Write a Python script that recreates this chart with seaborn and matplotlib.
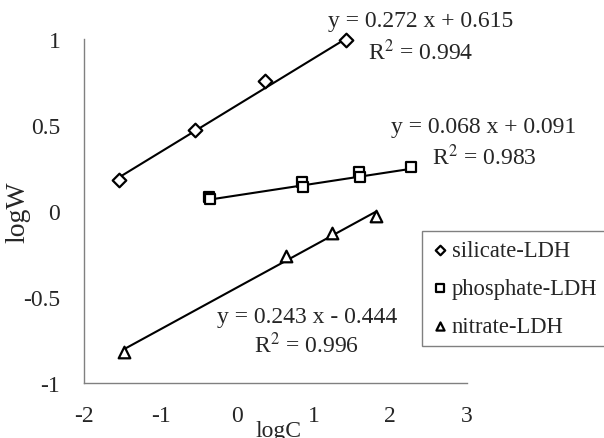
import numpy as np
import pandas as pd
import matplotlib
matplotlib.use("Agg")
import matplotlib.pyplot as plt
import seaborn as sns

# --- data ---
sil_x = [-1.54, -0.55, 0.36, 1.42]
sil_y = [0.18, 0.47, 0.755, 0.994]
pho_x = [-0.37, -0.35, 0.85, 0.86, 1.59, 1.60, 2.27]
pho_y = [0.082, 0.068, 0.168, 0.140, 0.225, 0.198, 0.255]
nit_x = [-1.48, 0.64, 1.24, 1.81]
nit_y = [-0.82, -0.26, -0.13, -0.03]
series = ["silicate-LDH", "phosphate-LDH", "nitrate-LDH"]
slopes = [0.272, 0.068, 0.243]
intercepts = [0.615, 0.091, -0.444]
eq_texts = ["y = 0.272 x + 0.615", "y = 0.068 x + 0.091", "y = 0.243 x - 0.444"]
r2_texts = ["R$^2$ = 0.994", "R$^2$ = 0.983", "R$^2$ = 0.996"]
x_ticks = [-2, -1, 0, 1, 2, 3]
y_ticks = [-1, -0.5, 0, 0.5, 1]

sns.set_style("white")
plt.rcParams["font.family"] = ["Liberation Serif", "DejaVu Serif"]
plt.rcParams["mathtext.fontset"] = "stix"

fig = plt.figure(figsize=(6.04, 4.39), dpi=100)
ax = fig.add_axes([0.139, 0.125, 0.634, 0.784])

xs = [sil_x, pho_x, nit_x]
ys = [sil_y, pho_y, nit_y]
markers = ["D", "s", "^"]
sizes = [48, 55, 70]

for name, x, y, m, s, a, b in zip(series, xs, ys, markers, sizes, slopes, intercepts):
    df = pd.DataFrame({"x": x, "y": y})
    xr = np.array([min(x), max(x)])
    fit = pd.DataFrame({"x": xr, "y": a * xr + b})
    sns.lineplot(data=fit, x="x", y="y", ax=ax, color="black", lw=1.5, legend=False)
    sns.scatterplot(data=df, x="x", y="y", ax=ax, marker=m, s=s,
                    facecolor="white", edgecolor="black", linewidth=1.6,
                    label=name, zorder=3, clip_on=False)

fs = 17
kw = dict(ha="center", va="center", fontsize=fs, clip_on=False)
ax.text(2.39, 1.105, eq_texts[0], **kw)
ax.text(2.40, 0.93, r2_texts[0], **kw)
ax.text(3.22, 0.494, eq_texts[1], **kw)
ax.text(3.23, 0.32, r2_texts[1], **kw)
ax.text(0.91, -0.61, eq_texts[2], **kw)
ax.text(0.91, -0.775, r2_texts[2], **kw)

ax.set_xlim(-2, 3)
ax.set_ylim(-1, 1)
ax.set_xticks(x_ticks)
ax.set_xticklabels([str(t) for t in x_ticks])
ax.set_yticks(y_ticks)
ax.set_yticklabels(["-1", "-0.5", "0", "0.5", "1"])
ax.tick_params(axis="both", labelsize=fs, length=6, width=0.8, color="#808080",
               direction="in")
ax.tick_params(axis="y", pad=17)
ax.tick_params(axis="x", pad=16)
ax.set_xlabel("logC", fontsize=fs)
ax.set_ylabel("logW", fontsize=20)
ax.xaxis.set_label_coords(0.509, -0.108)
ax.yaxis.set_label_coords(-0.141, 0.5)
for sp in ["top", "right"]:
    ax.spines[sp].set_visible(False)
for sp in ["left", "bottom"]:
    ax.spines[sp].set_color("#808080")
    ax.spines[sp].set_linewidth(1.0)

leg = ax.legend(loc="upper left", bbox_to_anchor=(0.883, 0.442), fontsize=16.3,
                frameon=True, fancybox=False, handletextpad=0.1, handlelength=0.8,
                borderpad=0.4, labelspacing=0.75, markerscale=0.7, borderaxespad=0)
leg.get_frame().set_edgecolor("#606060")
leg.get_frame().set_linewidth(1.0)

fig.savefig("out.png", dpi=100)
